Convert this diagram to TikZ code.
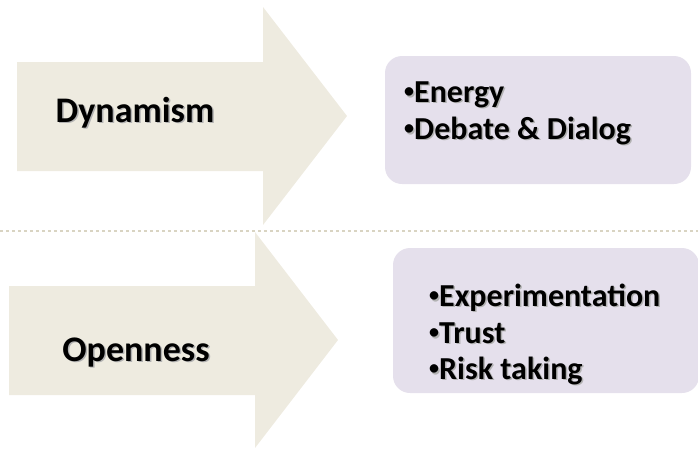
\documentclass[tikz,border=0pt]{standalone}
\usepackage{fontspec}
\setmainfont{Carlito}
\usepackage{tikz}

\definecolor{arrowfill}{HTML}{EEEBE0}
\definecolor{boxfill}{HTML}{E5E0EC}
\definecolor{dotline}{HTML}{D9D4C2}

\newcommand{\shtext}[1]{\makebox[0pt][l]{\hspace{1.5pt}\raisebox{-1.5pt}{\color{black!30}#1}}#1}
\newcommand{\bul}{\raisebox{4.5pt}{\fontsize{20}{20}\selectfont •}}

\begin{document}
\begin{tikzpicture}[x=1pt, y=-1pt, font=\bfseries\fontsize{32}{37}\selectfont]
\useasboundingbox (0,0) rectangle (698,448);
\coordinate (A1) at (17 ,62 ) ;
\coordinate (A2) at (263,62 ) ;
\coordinate (A3) at (263,7  ) ;
\coordinate (A4) at (347,116) ;
\coordinate (A5) at (263,225) ;
\coordinate (A6) at (263,171) ;
\coordinate (A7) at (17 ,171) ;
\coordinate (B1) at (9  ,286) ;
\coordinate (B2) at (255,286) ;
\coordinate (B3) at (255,232) ;
\coordinate (B4) at (338,340) ;
\coordinate (B5) at (255,448) ;
\coordinate (B6) at (255,395) ;
\coordinate (B7) at (9  ,395) ;
\coordinate (C1) at (385,56 ) ;
\coordinate (C2) at (691,184) ;
\coordinate (D1) at (393,248) ;
\coordinate (D2) at (699,393) ;
\coordinate (E1) at (0  ,231) ;
\coordinate (E2) at (698,231) ;
\fill [arrowfill] (A1) -- (A2) -- (A3) -- (A4) -- (A5) -- (A6) -- (A7) -- cycle;
\fill [arrowfill] (B1) -- (B2) -- (B3) -- (B4) -- (B5) -- (B6) -- (B7) -- cycle;
\draw [dotline, line width=2.5pt, dash pattern=on 2.5pt off 3.5pt] (E1) -- (E2);
\fill [boxfill, rounded corners=17pt] (C1) rectangle (C2);
\fill [boxfill, rounded corners=17pt] (D1) rectangle (D2);

\node (dyn) [anchor=base, inner sep=0, font=\bfseries\fontsize{36}{40}\selectfont] at (135,122) {\shtext{Dynamism}};
\node (open) [anchor=base, inner sep=0, font=\bfseries\fontsize{36}{40}\selectfont] at (136,361) {\shtext{Openness}};
\node (en) [anchor=base west, inner sep=0] at (404,102) {\shtext{\bul Energy}};
\node (deb) [anchor=base west, inner sep=0] at (404,139) {\shtext{\bul Debate \& Dialog}};
\node (exp) [anchor=base west, inner sep=0] at (429,306) {\shtext{\bul Experimentation}};
\node (tru) [anchor=base west, inner sep=0] at (429,343) {\shtext{\bul Trust}};
\node (risk) [anchor=base west, inner sep=0] at (429,379) {\shtext{\bul Risk taking}};
\end{tikzpicture}
\end{document}
